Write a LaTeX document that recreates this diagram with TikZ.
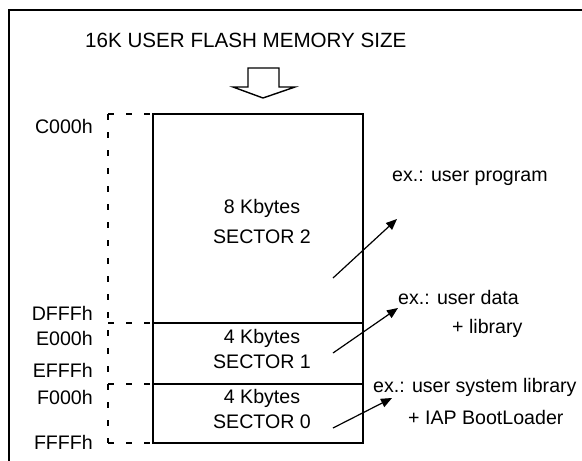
\documentclass[tikz,border=0pt]{standalone}
\usepackage{fontspec}
\setmainfont{Liberation Sans}
\usetikzlibrary{arrows.meta}
\tikzset{
  txt/.style={inner sep=0pt,font=\fontsize{19.6}{23}\selectfont},
  addr/.style={txt,anchor=base east},
  note/.style={txt,anchor=base west},
  guide/.style={line width=1.8pt,dash pattern=on 6pt off 12pt},
  pointer/.style={line width=1.2pt,-{Triangle[length=11pt,width=9pt]}}
}
\begin{document}
\begin{tikzpicture}[x=1pt,y=-1pt]
\useasboundingbox (0,0) rectangle (582,461);

% frame
\draw [line width=2pt] (9,461) -- (9,10) -- (582,10) ;

% title and hollow arrow
\node [txt,anchor=base west,font=\fontsize{20.6}{24}\selectfont] (title) at (85,47) {16K USER FLASH MEMORY SIZE};
\draw [line width=1.4pt,line join=miter] (248,68) -- (279,68) -- (279,87) -- (295,87) -- (263,98) -- (233,87) -- (248,87) -- cycle ;

% memory sectors
\coordinate (c000) at (153,114);
\coordinate (e000) at (153,323);
\coordinate (f000) at (153,384);
\coordinate (ffff) at (153,443);
\draw [line width=2pt] (c000) rectangle (363,443) ;
\draw [line width=2pt] (e000) -- (363,323) ;
\draw [line width=2pt] (f000) -- (363,384) ;

% dashed address guides
\draw [guide] (108,114) -- (108,443) ;
\foreach \y/\n in {114/c000,323/e000,384/f000,443/ffff}
  \draw [guide] (108,\y) -- (\n) ;

% addresses
\node [addr] (lc000) at (93,133) {C000h};
\node [addr] (ldfff) at (93,320) {DFFFh};
\node [addr] (le000) at (93,345) {E000h};
\node [addr] (lefff) at (93,377) {EFFFh};
\node [addr] (lf000) at (93,404) {F000h};
\node [addr] (lffff) at (93,449) {FFFFh};

% sector texts
\node [txt,anchor=base] (size2) at (262,213) {8 Kbytes};
\node [txt,anchor=base] (sec2) at (262,243) {SECTOR 2};
\node [txt,anchor=base] (size1) at (262,343) {4 Kbytes};
\node [txt,anchor=base] (sec1) at (262,368) {SECTOR 1};
\node [txt,anchor=base] (size0) at (262,403) {4 Kbytes};
\node [txt,anchor=base] (sec0) at (262,428) {SECTOR 0};

% usage notes
\node [note] (use2) at (392,181) {ex.: user program};
\node [note] (use1) at (398,304) {ex.: user data};
\node [note] (use1b) at (452,333) {+ library};
\node [note] (use0) at (373,392) {ex.: user system library};
\node [note] (use0b) at (408,424) {+ IAP BootLoader};

% pointers
\coordinate (t2) at (333,278); \coordinate (h2) at (397,219);
\coordinate (t1) at (333,353); \coordinate (h1) at (398,308);
\coordinate (t0) at (333,428); \coordinate (h0) at (392,398);
\draw [pointer] (t2) -- (h2) ;
\draw [pointer] (t1) -- (h1) ;
\draw [pointer] (t0) -- (h0) ;
\end{tikzpicture}
\end{document}
